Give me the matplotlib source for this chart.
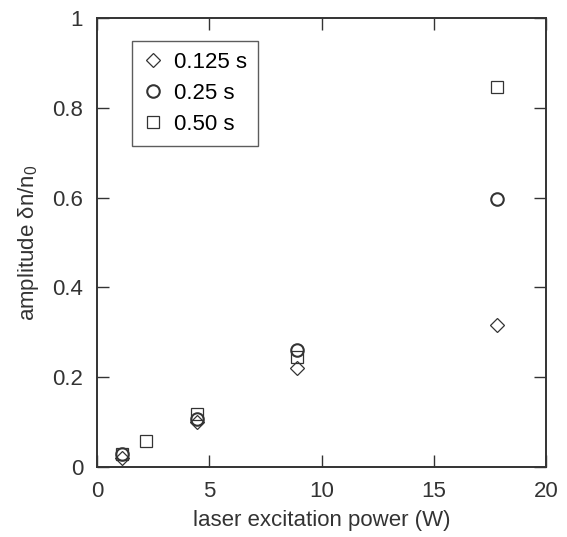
import matplotlib
matplotlib.use("Agg")
import matplotlib.pyplot as plt

# data
power_125 = [1.1, 4.45, 8.9, 17.8]
amp_125 = [0.02, 0.10, 0.22, 0.316]

power_25 = [1.1, 4.45, 8.9, 17.8]
amp_25 = [0.03, 0.107, 0.26, 0.597]

power_50 = [1.1, 2.2, 4.45, 8.9, 17.8]
amp_50 = [0.028, 0.058, 0.118, 0.245, 0.846]

plt.rcParams['font.family'] = ['Liberation Sans', 'DejaVu Sans']

fig = plt.figure(figsize=(5.67, 5.37), dpi=100)
ax = fig.add_axes([0.1711, 0.1304, 0.792, 0.836])

ec = '#333333'
ax.plot(power_125, amp_125, linestyle='none', marker='D', markersize=7,
        mfc='none', mec=ec, mew=0.9, label='0.125 s')
ax.plot(power_25, amp_25, linestyle='none', marker='o', markersize=9,
        mfc='none', mec=ec, mew=1.5, label='0.25 s')
ax.plot(power_50, amp_50, linestyle='none', marker='s', markersize=8,
        mfc='none', mec=ec, mew=0.9, label='0.50 s')

ax.set_xlim(0, 20)
ax.set_ylim(0, 1)
ax.set_xticks([0, 5, 10, 15, 20])
ax.set_yticks([0, 0.2, 0.4, 0.6, 0.8, 1.0])
ax.set_yticklabels(['0', '0.2', '0.4', '0.6', '0.8', '1'])
ax.tick_params(direction='in', top=True, right=True, length=8.5, width=1,
               labelsize=16, pad=10, color='#333333', labelcolor='#333333')
for s in ax.spines.values():
    s.set_linewidth(1.4)
    s.set_color('#333333')

ax.set_xlabel('laser excitation power (W)', fontsize=16, color='#333333',
              labelpad=6)
ax.set_ylabel(r'amplitude $\mathregular{\delta n/n_0}$', fontsize=16,
              color='#333333', labelpad=8)

leg = ax.legend(loc='upper left', bbox_to_anchor=(0.078, 0.949), fontsize=16,
                frameon=True, fancybox=False, edgecolor='#333333',
                handletextpad=0.5, borderpad=0.5, labelspacing=0.45,
                handlelength=0.9, borderaxespad=0)
leg.get_frame().set_linewidth(1.0)

fig.savefig('out.png', dpi=100)
